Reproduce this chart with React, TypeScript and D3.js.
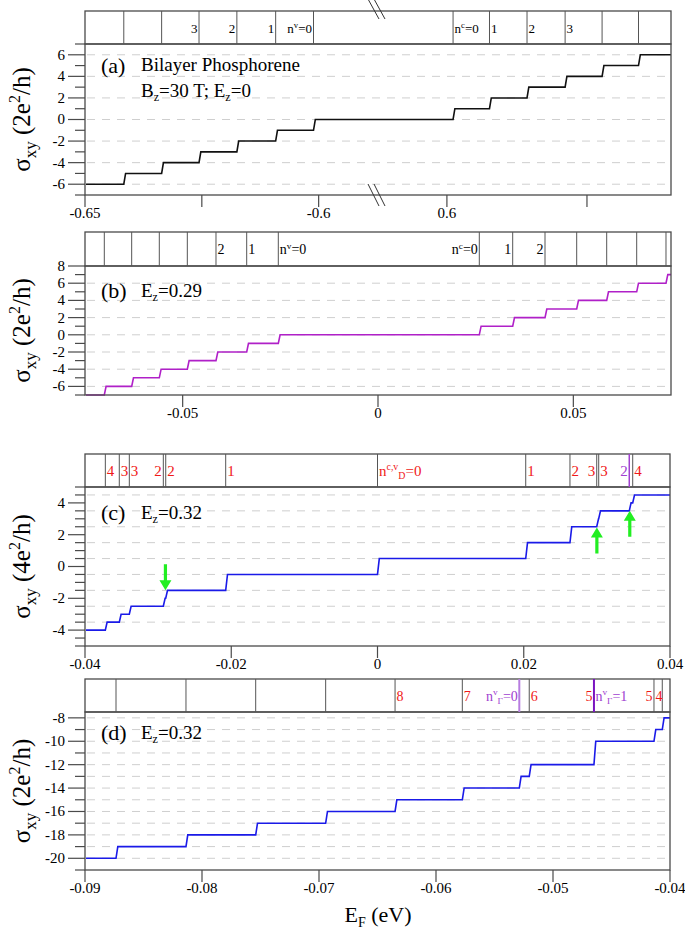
import React from 'react';
import * as d3 from 'd3';

const FONT = '"Liberation Serif", "Times New Roman", serif';
const RED = '#f01818';
const PURPLE = '#a040d0';

type Lbl = { e: number; base: string; sup?: string; sub?: string; tail?: string; side: 'L' | 'R'; color: string };
type SLine = { e: number; color: string; w: number };

// ---------------- Panel (a) ----------------
const aSteps = [-0.6417, -0.6336, -0.6256, -0.6175, -0.6092, -0.6011, 0.6011, 0.6076, 0.6143, 0.6211, 0.6277, 0.6342];
const aLevels = [-6, -5, -4, -3, -2, -1, 0, 1, 2, 3, 4, 5, 6];
const aStripEnergies = [-0.6417, -0.6336, -0.6256, -0.6175, -0.6092, -0.6011, 0.6011, 0.6076, 0.6143, 0.6211, 0.6277, 0.6342];
const aLabels: Lbl[] = [
  { e: -0.6256, base: '3', side: 'L', color: '#000' },
  { e: -0.6175, base: '2', side: 'L', color: '#000' },
  { e: -0.6092, base: '1', side: 'L', color: '#000' },
  { e: -0.6011, base: 'n', sup: 'v', tail: '=0', side: 'L', color: '#000' },
  { e: 0.6011, base: 'n', sup: 'c', tail: '=0', side: 'R', color: '#000' },
  { e: 0.6076, base: '1', side: 'R', color: '#000' },
  { e: 0.6143, base: '2', side: 'R', color: '#000' },
  { e: 0.6211, base: '3', side: 'R', color: '#000' },
];
const aXTicks = [-0.65, -0.625, -0.6, 0.6, 0.625];
const aXTickLabels = ['-0.65', '', '-0.6', '0.6', ''];

// ---------------- Panel (b) ----------------
const bSteps = [-0.07006, -0.06305, -0.05598, -0.04881, -0.04147, -0.03361, -0.02552, 0.02593, 0.03448, 0.04275, 0.05086, 0.05854, 0.06622, 0.07372];
const bLevels = [-7, -6, -5, -4, -3, -2, -1, 0, 1, 2, 3, 4, 5, 6, 7];
const bStripEnergies = [-0.07006, -0.06305, -0.05598, -0.04881, -0.04147, -0.03361, -0.02552, 0.02593, 0.03448, 0.04275, 0.05086, 0.05854, 0.06622, 0.07372];
const bLabels: Lbl[] = [
  { e: -0.04147, base: '2', side: 'R', color: '#000' },
  { e: -0.03361, base: '1', side: 'R', color: '#000' },
  { e: -0.02552, base: 'n', sup: 'v', tail: '=0', side: 'R', color: '#000' },
  { e: 0.02593, base: 'n', sup: 'c', tail: '=0', side: 'L', color: '#000' },
  { e: 0.03448, base: '1', side: 'L', color: '#000' },
  { e: 0.04275, base: '2', side: 'L', color: '#000' },
];
const bXTicks = [-0.05, 0, 0.05];
const bXTickLabels = ['-0.05', '0', '0.05'];

// ---------------- Panel (c) ----------------
const cSteps = [-0.03722, -0.03531, -0.03394, -0.02929, -0.02896, -0.02076, 0, 0.02027, 0.02632, 0.02998, 0.03025, 0.03443, 0.0349];
const cLevels = [-4, -3.5, -3, -2.5, -2, -1.5, -0.5, 0.5, 1.5, 2.5, 3, 3.5, 4, 4.5];
const cStripEnergies = [-0.03722, -0.03531, -0.03394, -0.02929, -0.02896, -0.02076, 0, 0.02027, 0.02632, 0.02998, 0.03025, 0.03443, 0.0349];
const cStripPurple = [0.03443];
const cLabels: Lbl[] = [
  { e: -0.03722, base: '4', side: 'R', color: RED },
  { e: -0.03531, base: '3', side: 'R', color: RED },
  { e: -0.03394, base: '3', side: 'R', color: RED },
  { e: -0.02929, base: '2', side: 'L', color: RED },
  { e: -0.02896, base: '2', side: 'R', color: RED },
  { e: -0.02076, base: '1', side: 'R', color: RED },
  { e: 0, base: 'n', sup: 'c,v', sub: 'D', tail: '=0', side: 'R', color: RED },
  { e: 0.02027, base: '1', side: 'R', color: RED },
  { e: 0.02632, base: '2', side: 'R', color: RED },
  { e: 0.02998, base: '3', side: 'L', color: RED },
  { e: 0.03025, base: '3', side: 'R', color: RED },
  { e: 0.03443, base: '2', side: 'L', color: PURPLE },
  { e: 0.0349, base: '4', side: 'R', color: RED },
];
const cXTicks = [-0.04, -0.02, 0, 0.02, 0.04];
const cXTickLabels = ['-0.04', '-0.02', '0', '0.02', '0.04'];
const cArrowEnergies = [-0.029, 0.0300, 0.0345];
const cArrowTips = [-1.5, 2.45, 3.5];
const cArrowDirs = ['down', 'up', 'up'];

// ---------------- Panel (d) ----------------
const dSteps = [-0.08735, -0.08137, -0.07541, -0.06943, -0.0635, -0.05775, -0.05288, -0.05203, -0.0465, -0.04137, -0.04066];
const dLevels = [-20, -19, -18, -17, -16, -15, -14, -13, -12, -10, -9, -8];
const dStripEnergies = [-0.08735, -0.08137, -0.07541, -0.06943, -0.0635, -0.05775, -0.05288, -0.05203, -0.0465, -0.04137, -0.04066];
const dStripLight = [-0.05288];
const dStripDark = [-0.0465];
const dLabels: Lbl[] = [
  { e: -0.0635, base: '8', side: 'R', color: RED },
  { e: -0.05775, base: '7', side: 'R', color: RED },
  { e: -0.05288, base: 'n', sup: 'v', sub: 'Γ', tail: '=0', side: 'L', color: PURPLE },
  { e: -0.05203, base: '6', side: 'R', color: RED },
  { e: -0.0465, base: '5', side: 'L', color: RED },
  { e: -0.0465, base: 'n', sup: 'v', sub: 'Γ', tail: '=1', side: 'R', color: PURPLE },
  { e: -0.04137, base: '5', side: 'L', color: RED },
  { e: -0.04137, base: '4', side: 'R', color: RED },
];
const dXTicks = [-0.09, -0.08, -0.07, -0.06, -0.05, -0.04];
const dXTickLabels = ['-0.09', '-0.08', '-0.07', '-0.06', '-0.05', '-0.04'];

// ---------------- helpers ----------------
const range = (a: number, b: number, s: number) => d3.range(a, b + s / 2, s);

function StripLabel({ x, y, lbl, size }: { x: number; y: number; lbl: Lbl; size: number }) {
  const anchor = lbl.side === 'L' ? 'end' : 'start';
  const xx = lbl.side === 'L' ? x - 1.5 : x + 1.5;
  const s = size * 0.66;
  const supDy = -size * 0.38;
  const subDy = size * 0.63;
  let tailDy = 0;
  if (lbl.sup && lbl.sub) tailDy = -(supDy + subDy);
  else if (lbl.sup) tailDy = -supDy;
  return (
    <text x={xx} y={y} textAnchor={anchor} fontSize={size} fill={lbl.color} fontFamily={FONT}>
      {lbl.base}
      {lbl.sup ? <tspan fontSize={s} dy={supDy}>{lbl.sup}</tspan> : null}
      {lbl.sub ? <tspan fontSize={s} dy={subDy}>{lbl.sub}</tspan> : null}
      {lbl.tail ? <tspan dy={tailDy}>{lbl.tail}</tspan> : null}
    </text>
  );
}

type PanelCfg = {
  id: string;
  stripTop: number; stripBottom: number; plotBottom: number; left: number; right: number;
  x: (v: number) => number;
  yDomain: [number, number];
  yMajor: number[]; yMinor: number[]; grid: number[];
  steps: number[]; levels: number[]; lineColor: string;
  stripLines: SLine[]; labels: Lbl[]; labelSize: number;
  xTicks: number[]; xTickLabels: string[];
  unit: string;
  tag: string; tagBase: number; texts: { t: React.ReactNode; y: number }[];
};

function Panel({ p }: { p: PanelCfg }) {
  const y = d3.scaleLinear().domain(p.yDomain).range([p.plotBottom, p.stripBottom]);
  const slant = 1.8;
  const pts: [number, number][] = [[p.left + 1, y(p.levels[0])]];
  p.steps.forEach((s, i) => {
    const xs = p.x(s);
    pts.push([xs, y(p.levels[i])]);
    pts.push([xs + slant, y(p.levels[i + 1])]);
  });
  pts.push([p.right, y(p.levels[p.levels.length - 1])]);
  const path = d3.line()(pts) || '';
  const labY = (p.stripTop + p.stripBottom) / 2 + 5;
  const midY = (p.stripBottom + p.plotBottom) / 2;
  const ax = '#4a4a4a';
  return (
    <g>
      {p.grid.map((g) => (
        <line key={'g' + g} x1={p.left + 2} x2={p.right} y1={y(g)} y2={y(g)} stroke="#cfcfcf" strokeWidth={1} strokeDasharray="8,7" />
      ))}
      <path d={path} fill="none" stroke={p.lineColor} strokeWidth={1.6} />
      <rect x={p.left} y={p.stripBottom} width={p.right - p.left} height={p.plotBottom - p.stripBottom} fill="none" stroke={ax} strokeWidth={1.3} />
      <rect x={p.left} y={p.stripTop} width={p.right - p.left} height={p.stripBottom - p.stripTop} fill="none" stroke={ax} strokeWidth={1.3} />
      {p.stripLines.map((l, i) => (
        <line key={'s' + i} x1={p.x(l.e)} x2={p.x(l.e)} y1={p.stripTop} y2={p.stripBottom} stroke={l.color} strokeWidth={l.w} />
      ))}
      {p.labels.map((l, i) => (
        <StripLabel key={'l' + i} x={p.x(l.e)} y={labY} lbl={l} size={p.labelSize} />
      ))}
      {p.yMajor.map((v) => (
        <g key={'ym' + v}>
          <line x1={p.left - 17} x2={p.left} y1={y(v)} y2={y(v)} stroke={ax} strokeWidth={1.2} />
          <text x={p.left - 20} y={y(v)} dy="0.33em" textAnchor="end" fontSize={15} fontFamily={FONT}>{v}</text>
        </g>
      ))}
      {p.yMinor.map((v) => (
        <line key={'yn' + v} x1={p.left - 10} x2={p.left} y1={y(v)} y2={y(v)} stroke={ax} strokeWidth={1.2} />
      ))}
      {p.xTicks.map((v, i) => (
        <g key={'xt' + i}>
          <line x1={p.x(v)} x2={p.x(v)} y1={p.plotBottom} y2={p.plotBottom + 12} stroke={ax} strokeWidth={1.2} />
          <text x={p.x(v)} y={p.plotBottom + 23} textAnchor="middle" fontSize={15} fontFamily={FONT}>{p.xTickLabels[i]}</text>
        </g>
      ))}
      <text transform={`translate(30,${midY}) rotate(-90)`} textAnchor="middle" fontSize={25} fontFamily={FONT}>
        σ<tspan fontSize={17} dy={6}>xy</tspan>
        <tspan dy={-6}>{' (' + p.unit + 'e'}</tspan>
        <tspan fontSize={16} dy={-10}>2</tspan>
        <tspan dy={10}>/h)</tspan>
      </text>
      <text x={101} y={p.tagBase} fontSize={22} fontFamily={FONT}>{p.tag}</text>
      {p.texts.map((t, i) => (
        <text key={'t' + i} x={141} y={t.y} fontSize={19} fontFamily={FONT}>{t.t}</text>
      ))}
    </g>
  );
}

const Ez = (v: string) => (
  <>
    E<tspan fontSize={12} dy={4}>z</tspan><tspan dy={-4}>{'=' + v}</tspan>
  </>
);

export default function App() {
  const aBreak = 378;
  const aLeftScale = d3.scaleLinear().domain([-0.65, -0.5873]).range([85, aBreak]);
  const aRightScale = d3.scaleLinear().domain([0.5877, 0.64]).range([aBreak, 671]);
  const ax = (v: number) => (v < 0 ? aLeftScale(v) : aRightScale(v));
  const bx = d3.scaleLinear().domain([-0.075, 0.075]).range([85, 671]);
  const cx = d3.scaleLinear().domain([-0.04, 0.04]).range([85, 670]);
  const dx = d3.scaleLinear().domain([-0.09, -0.04]).range([85, 670]);
  const gray = '#555';

  const panels: PanelCfg[] = [
    {
      id: 'a', stripTop: 11, stripBottom: 44, plotBottom: 195, left: 85, right: 671, x: ax,
      yDomain: [-7, 7], yMajor: range(-6, 6, 2), yMinor: range(-7, 7, 2), grid: range(-6, 6, 2),
      steps: aSteps, levels: aLevels, lineColor: '#111',
      stripLines: aStripEnergies.map((e) => ({ e, color: gray, w: 1 })), labels: aLabels, labelSize: 13,
      xTicks: aXTicks, xTickLabels: aXTickLabels, unit: '2',
      tag: '(a)', tagBase: 73,
      texts: [
        { t: 'Bilayer Phosphorene', y: 71 },
        { t: <>B<tspan fontSize={12} dy={4}>z</tspan><tspan dy={-4}>=30 T; E</tspan><tspan fontSize={12} dy={4}>z</tspan><tspan dy={-4}>=0</tspan></>, y: 97 },
      ],
    },
    {
      id: 'b', stripTop: 232, stripBottom: 266, plotBottom: 395, left: 85, right: 671, x: bx,
      yDomain: [-7, 8], yMajor: range(-6, 8, 2), yMinor: range(-7, 7, 2), grid: range(-6, 6, 2),
      steps: bSteps, levels: bLevels, lineColor: '#b020c8',
      stripLines: bStripEnergies.map((e) => ({ e, color: gray, w: 1 })), labels: bLabels, labelSize: 14,
      xTicks: bXTicks, xTickLabels: bXTickLabels, unit: '2',
      tag: '(b)', tagBase: 298,
      texts: [{ t: Ez('0.29'), y: 297 }],
    },
    {
      id: 'c', stripTop: 454, stripBottom: 487, plotBottom: 646, left: 85, right: 670, x: cx,
      yDomain: [-5, 5], yMajor: range(-4, 4, 2), yMinor: range(-5, 5, 0.5).filter((v) => v % 2 !== 0), grid: range(-3.5, 4.5, 1),
      steps: cSteps, levels: cLevels, lineColor: '#1a1ae8',
      stripLines: cStripEnergies.map((e) => ({ e, color: cStripPurple.includes(e) ? PURPLE : gray, w: cStripPurple.includes(e) ? 1.5 : 1 })),
      labels: cLabels, labelSize: 15,
      xTicks: cXTicks, xTickLabels: cXTickLabels, unit: '4',
      tag: '(c)', tagBase: 520,
      texts: [{ t: Ez('0.32'), y: 519 }],
    },
    {
      id: 'd', stripTop: 679, stripBottom: 712, plotBottom: 870, left: 85, right: 670, x: dx,
      yDomain: [-21, -7.5], yMajor: range(-20, -8, 2), yMinor: range(-21, -9, 2), grid: range(-20, -8, 1),
      steps: dSteps, levels: dLevels, lineColor: '#1a1ae8',
      stripLines: dStripEnergies.map((e) => ({
        e,
        color: dStripLight.includes(e) ? '#b77de0' : dStripDark.includes(e) ? '#7a14c0' : gray,
        w: dStripLight.includes(e) || dStripDark.includes(e) ? 2 : 1,
      })),
      labels: dLabels, labelSize: 14,
      xTicks: dXTicks, xTickLabels: dXTickLabels, unit: '2',
      tag: '(d)', tagBase: 740,
      texts: [{ t: Ez('0.32'), y: 739 }],
    },
  ];

  const cyScale = d3.scaleLinear().domain([-5, 5]).range([646, 487]);
  const arrowLen = 26, headL = 10, headW = 6, shaftW = 1.6;

  return (
    <svg width={685} height={929} style={{ position: 'absolute', left: 0, top: 0, background: '#fff', fontFamily: FONT }} fontFamily={FONT}>
      <rect width={685} height={929} fill="#fff" />
      {panels.map((p) => <Panel key={p.id} p={p} />)}
      {[0, 6].map((o) => (
        <g key={'br' + o}>
          <line x1={aBreak - 10 + o} y1={-1} x2={aBreak + 1 + o} y2={19} stroke="#333" strokeWidth={1} />
          <line x1={aBreak - 10 + o} y1={184} x2={aBreak + 1 + o} y2={206} stroke="#333" strokeWidth={1} />
        </g>
      ))}
      {cArrowEnergies.map((e, i) => {
        const x0 = cx(e);
        const tip = cyScale(cArrowTips[i]);
        const s = cArrowDirs[i] === 'down' ? -1 : 1;
        const tail = tip + s * arrowLen;
        const hb = tip + s * headL;
        const d = `M${x0 - shaftW},${tail} L${x0 - shaftW},${hb} L${x0 - headW},${hb} L${x0},${tip} L${x0 + headW},${hb} L${x0 + shaftW},${hb} L${x0 + shaftW},${tail} Z`;
        return <path key={'ar' + i} d={d} fill="#22ee22" />;
      })}
      <text x={378} y={922} textAnchor="middle" fontSize={22} fontFamily={FONT}>
        E<tspan fontSize={14} dy={5}>F</tspan><tspan dy={-5}> (eV)</tspan>
      </text>
    </svg>
  );
}
